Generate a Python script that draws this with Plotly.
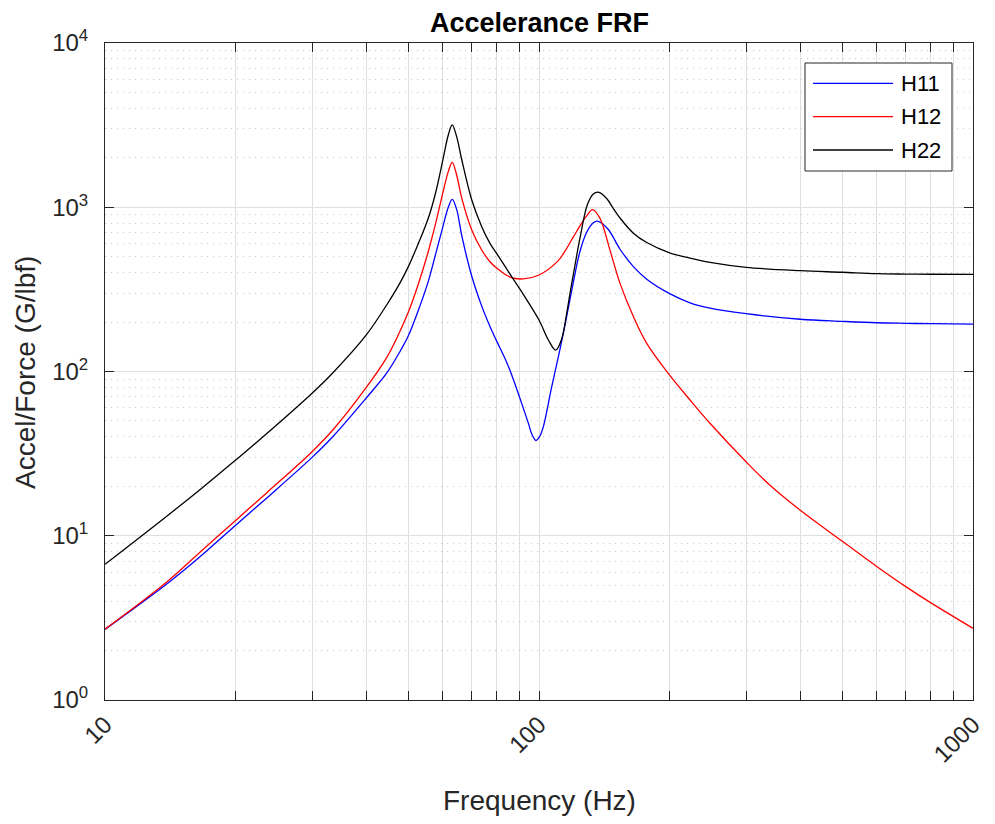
import plotly.graph_objects as go

# ---- data ----
f_h11 = [10, 13.9, 16.6, 20, 23.6, 30, 33.6, 40, 44.6, 47.8, 50, 52.7, 55.6, 57.8, 60, 61.8, 63.1,
         64.6, 66.4, 70, 73.8, 77.1, 80, 83.5, 85.8, 90, 94.5, 96.3, 98.4, 100.5, 102.3, 106.9,
         111.8, 115.8, 120, 124.3, 128.8, 133.4, 136.3, 144, 153.7, 165, 177.1, 200, 222.8, 247.7,
         300, 400, 500, 600, 700, 800, 1000]
h11 = [2.69, 5.1, 7.5, 11.6, 17.0, 30, 40.5, 69, 98, 132, 165, 235, 355, 520, 755, 1000, 1117,
       970, 670, 380, 250, 188, 152, 120, 101, 71, 48.5, 41.5, 38, 40.5, 46, 80,
       137, 216, 350, 540, 705, 805, 824, 740, 555, 435, 365, 298, 262, 243,
       225, 208, 202, 198, 196.5, 195.5, 194.5]

f_h12 = [10, 13.9, 16.6, 20, 23.6, 30, 33.6, 40, 44.6, 47.8, 50, 52.7, 55.6, 57.8, 60, 61.8, 63.1,
         64.6, 66.4, 70, 73.8, 77.1, 80, 85.8, 92, 100, 110.5, 115, 120, 126.5, 128.8, 132.8,
         138.2, 145.5, 153.7, 165, 177.1, 200, 222.8, 247.7, 300, 340.6, 400, 500, 600, 700, 800,
         1000]
h12 = [2.70, 5.25, 8.0, 12.4, 18.3, 32.5, 44.5, 80, 122, 175, 230, 340, 540, 800, 1216, 1648, 1878,
       1571, 1133, 727, 549, 466, 425, 375, 366, 387, 470, 545, 660, 830, 885, 966,
       856, 556, 344, 216, 148.5, 95, 67.1, 48.4, 28.2, 20.3, 14.3, 9.25, 6.5, 4.9, 3.9,
       2.73]

f_h22 = [10, 13.9, 16.6, 20, 23.6, 30, 33.6, 40, 44.6, 47.8, 50, 52.7, 55.6, 57.8, 60, 61.8, 63.1,
         64.6, 66.4, 70, 73.8, 77.1, 80, 86.5, 92, 100, 105.1, 109.3, 112.8, 115.8, 117.9, 120,
         124.3, 129.3, 133.4, 137.4, 143.2, 148.3, 153.7, 165, 177.1, 200, 222.8, 247.7, 300, 400,
         500, 600, 700, 800, 1000]
h22 = [6.7, 13.2, 19.2, 28.9, 41.9, 73.7, 99, 167, 255, 345, 435, 600, 860, 1230, 1920, 2754, 3170,
       2690, 1940, 1107, 762, 603, 520, 378, 295, 206, 155.6, 135, 158, 225, 300, 390,
       650, 1040, 1205, 1233, 1130, 985, 860, 695, 610, 528, 490, 462, 431, 411,
       402, 394, 392, 391, 390]

series_names = ["H11", "H12", "H22"]
series_colors = ["#0000ff", "#ff0000", "#000000"]

x_tickvals = [10, 100, 1000]
x_ticktext = ["10", "100", "1000"]
x_minor = [m * 10 ** e for e in (1, 2) for m in range(2, 10)]
y_tickvals = [1, 10, 100, 1000, 10000]
y_ticktext = ["10<sup>0</sup>", "10<sup>1</sup>", "10<sup>2</sup>", "10<sup>3</sup>", "10<sup>4</sup>"]
y_minor = [m * 10 ** e for e in range(0, 4) for m in range(2, 10)]

FONT = "Liberation Sans, Arial, sans-serif"
AX = "#262626"
GRID = "#dfdfdf"

# page body has an 8px margin: plot area spans x 105..973, y 43..700 on the page
W, H = 978, 808
fig = go.Figure()
for fx, fy, name, col in zip([f_h11, f_h12, f_h22], [h11, h12, h22], series_names, series_colors):
    fig.add_trace(go.Scatter(x=fx, y=fy, mode="lines", name=name, showlegend=False,
                             line=dict(color=col, width=1.3, shape="spline", smoothing=1.0)))

fig.update_layout(
    width=W, height=H,
    margin=dict(l=97, r=13, t=35, b=116),
    paper_bgcolor="white", plot_bgcolor="white",
    font=dict(family=FONT, color=AX),
)

fig.update_xaxes(type="log", range=[1, 3], tickmode="array", tickvals=x_tickvals, ticktext=x_ticktext,
                 tickangle=-45, tickfont=dict(size=24, color=AX), ticks="inside", ticklen=9,
                 tickwidth=1, tickcolor=AX, showline=True, linecolor=AX, linewidth=1,
                 mirror="ticks", showgrid=True, gridcolor=GRID, gridwidth=1,
                 zeroline=False, automargin=False,
                 minor=dict(tickmode="array", tickvals=x_minor, ticks="inside", ticklen=9,
                            tickwidth=1, tickcolor=AX, showgrid=True, gridcolor=GRID,
                            gridwidth=1, griddash="solid"))
fig.update_yaxes(type="log", range=[0, 4], tickmode="array", tickvals=y_tickvals, ticktext=y_ticktext,
                 tickfont=dict(size=24, color=AX), ticks="inside", ticklen=9, tickwidth=1,
                 tickcolor=AX, showline=True, linecolor=AX, linewidth=1, mirror="ticks",
                 showgrid=True, gridcolor=GRID, gridwidth=1, zeroline=False,
                 automargin=False, ticklabelstandoff=11,
                 minor=dict(tickmode="array", tickvals=y_minor, showgrid=True, gridcolor="#c8c8c8",
                            griddash="1px,5px", gridwidth=1, ticks=""))

# title and axis titles
fig.add_annotation(text="<b>Accelerance FRF</b>", x=0.5, y=(700 - 23) / 657, xref="paper", yref="paper",
                   xanchor="center", yanchor="middle", showarrow=False,
                   font=dict(size=27, color="#000000", family=FONT))
fig.add_annotation(text="Frequency (Hz)", x=0.5, y=(700 - 800) / 657, xref="paper", yref="paper",
                   xanchor="center", yanchor="middle", showarrow=False,
                   font=dict(size=28, color=AX, family=FONT))
fig.add_annotation(text="Accel/Force (G/lbf)", x=(25 - 105) / 868, y=(700 - 373) / 657,
                   xref="paper", yref="paper", xanchor="center", yanchor="middle", textangle=-90,
                   showarrow=False, font=dict(size=28, color=AX, family=FONT))

# legend box (drawn manually to match the long line samples)
fig.add_shape(type="rect", xref="paper", yref="paper", x0=(805 - 105) / 868, x1=(952 - 105) / 868,
              y0=(700 - 171) / 657, y1=(700 - 63) / 657, line=dict(color=AX, width=1),
              fillcolor="white", layer="above")
row_py = [83.3, 116.7, 150]
for name, col, py in zip(series_names, series_colors, row_py):
    yy = (700 - py) / 657
    fig.add_shape(type="line", xref="paper", yref="paper", x0=(813 - 105) / 868, x1=(893 - 105) / 868,
                  y0=yy, y1=yy, line=dict(color=col, width=1.3), layer="above")
    fig.add_annotation(text=name, x=(899 - 105) / 868, y=yy, xref="paper", yref="paper",
                       xanchor="left", yanchor="middle", showarrow=False,
                       font=dict(size=22, color="#000000", family=FONT))

fig.write_html("out.html")
